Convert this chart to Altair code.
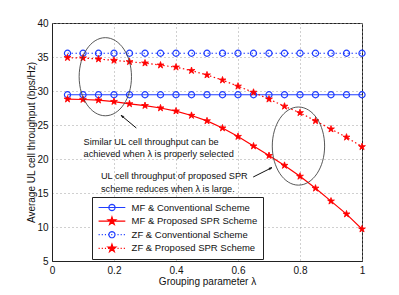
import math
import altair as alt
import pandas as pd

# ---------------- data ----------------
lam = [0.05, 0.10, 0.15, 0.20, 0.25, 0.30, 0.35, 0.40, 0.45, 0.50,
       0.55, 0.60, 0.65, 0.70, 0.75, 0.80, 0.85, 0.90, 0.95, 1.00]
mf_conv = [29.45, 29.45, 29.45, 29.45, 29.45, 29.45, 29.45, 29.45, 29.45, 29.45,
           29.45, 29.45, 29.45, 29.45, 29.45, 29.45, 29.45, 29.45, 29.45, 29.45]
mf_prop = [28.8, 28.75, 28.65, 28.45, 28.1, 27.85, 27.5, 27.05, 26.4, 25.6,
           24.55, 23.3, 21.9, 20.5, 19.05, 17.45, 15.7, 13.8, 11.9, 9.7]
zf_conv = [35.55, 35.55, 35.55, 35.55, 35.55, 35.55, 35.55, 35.55, 35.55, 35.55,
           35.55, 35.55, 35.55, 35.55, 35.55, 35.55, 35.55, 35.55, 35.55, 35.55]
zf_prop = [34.9, 34.85, 34.7, 34.5, 34.3, 34.1, 33.8, 33.5, 33.0, 32.35,
           31.6, 30.7, 29.8, 28.8, 27.75, 26.8, 25.6, 24.4, 23.2, 21.8]

series_names = ["MF & Conventional Scheme", "MF & Proposed SPR Scheme",
                "ZF & Conventional Scheme", "ZF & Proposed SPR Scheme"]
series_values = [mf_conv, mf_prop, zf_conv, zf_prop]
series_marker = ["circle", "star", "circle", "star"]
series_style = ["solid", "solid", "dotted", "dotted"]

x_ticks = [0, 0.2, 0.4, 0.6, 0.8, 1]
y_ticks = [5, 10, 15, 20, 25, 30, 35, 40]

ann_text = [["Similar UL cell throughput can be", "achieved when \u03bb is properly selected"],
            ["UL cell throughput of proposed SPR", "scheme reduces when \u03bb is large."]]
ann_text_x = [0.102, 0.158]
ann_text_y = [22.55, 17.5]

ellipse_x = [0.172, 0.795]
ellipse_y = [32.1, 21.9]

arrow_tail_x = [0.272, 0.649]
arrow_tail_y = [24.56, 17.35]
arrow_head_x = [0.2226, 0.7097]
arrow_head_y = [26.43, 18.74]
arrow_angle = [309.7, 63.3]

# ---------------- styles ----------------
BLUE = "#1f3dff"
RED = "#ff0000"
FONT = "Liberation Sans"
series_color = [BLUE, RED, BLUE, RED]


def star_path(R, cx=0.0, cy=0.0, ratio=0.382):
    pts = []
    for k in range(10):
        a = math.radians(-90 + 36 * k)
        r = R if k % 2 == 0 else R * ratio
        pts.append((cx + r * math.cos(a), cy + r * math.sin(a)))
    return "M" + "L".join(f"{px:.3f},{py:.3f}" for px, py in pts) + "Z"


def ring_path(r, cx=0.0, cy=0.0, n=20):
    pts = [(cx + r * math.cos(2 * math.pi * k / n), cy + r * math.sin(2 * math.pi * k / n))
           for k in range(n)]
    return "M" + "L".join(f"{px:.3f},{py:.3f}" for px, py in pts) + "Z"


L0, L1, MX = -0.87, 5.07, 2.1


def solid_line():
    return f"M{L0},0L{L1},0"


def dotted_line():
    segs = []
    p = L0
    while p < L1:
        segs.append(f"M{p:.3f},0L{min(p + 0.25, L1):.3f},0")
        p += 0.7
    return "".join(segs)


legend_shapes = [
    solid_line() + ring_path(0.68, MX),
    solid_line() + star_path(0.9, MX),
    dotted_line() + ring_path(0.68, MX),
    dotted_line() + star_path(0.9, MX),
]
legend_fill = ["transparent", RED, "transparent", RED]

STAR = star_path(1.0)
ELLIPSE = "M-0.67,0A0.67,1 0 1,0 0.67,0A0.67,1 0 1,0 -0.67,0Z"
ARROWHEAD = "M0,0L-0.6,2L0.6,2Z"

# ---------------- tables ----------------
rows = []
for name, vals, mk, st, col in zip(series_names, series_values, series_marker,
                                   series_style, series_color):
    for xv, yv in zip(lam, vals):
        rows.append({"series": name, "lam": xv, "thr": yv, "marker": mk,
                     "style": st, "col": col})
df = pd.DataFrame(rows)

ann_df = pd.DataFrame({"lam": ann_text_x, "thr": ann_text_y, "text": ann_text})
ell_df = pd.DataFrame({"lam": ellipse_x, "thr": ellipse_y})
arr_df = pd.DataFrame({"lam": arrow_tail_x, "thr": arrow_tail_y,
                       "lam2": arrow_head_x, "thr2": arrow_head_y, "angle": arrow_angle})
leg_df = pd.DataFrame({"series": series_names})

xscale = alt.Scale(domain=[0, 1], nice=False)
yscale = alt.Scale(domain=[5, 40], nice=False)

xaxis = alt.Axis(values=x_ticks, title="Grouping parameter \u03bb", format="~g",
                 grid=True, gridDash=[1, 3], gridColor="#a0a0a0", ticks=False,
                 labelPadding=4, titlePadding=1, labelOverlap=False, labelFlush=False)
yaxis = alt.Axis(values=y_ticks, title="Average UL cell throughput (bps/Hz)",
                 grid=True, gridDash=[1, 3], gridColor="#a0a0a0", ticks=False,
                 labelPadding=4, titlePadding=0, labelOverlap=False, labelFlush=False)

X = alt.X("lam:Q", scale=xscale, axis=xaxis)
Y = alt.Y("thr:Q", scale=yscale, axis=yaxis)

base = alt.Chart(df)

solid_lines = base.transform_filter(alt.datum.style == "solid").mark_line(
    strokeWidth=1.2, clip=True
).encode(x=X, y=Y, color=alt.Color("col:N", scale=None), detail="series:N")

dotted_lines = base.transform_filter(alt.datum.style == "dotted").mark_line(
    strokeWidth=1.2, clip=True, strokeDash=[1.5, 2.5]
).encode(x=X, y=Y, color=alt.Color("col:N", scale=None), detail="series:N")

circles = base.transform_filter(alt.datum.marker == "circle").mark_point(
    shape="circle", size=38, filled=False, stroke=BLUE, strokeWidth=1.2, opacity=1
).encode(x=X, y=Y)

stars = base.transform_filter(alt.datum.marker == "star").mark_point(
    shape=STAR, size=52, filled=True, fill=RED, stroke=RED, strokeWidth=0.8, opacity=1
).encode(x=X, y=Y)

texts = alt.Chart(ann_df).mark_text(
    align="left", baseline="middle", font=FONT, fontSize=9.2, lineHeight=12.5, color="#111"
).encode(x=X, y=Y, text="text")

ellipses = alt.Chart(ell_df).mark_point(
    shape=ELLIPSE, size=6100, filled=False, stroke="#444", strokeWidth=0.9, opacity=1
).encode(x=X, y=Y)

arrow_lines = alt.Chart(arr_df).mark_rule(color="#111", strokeWidth=1).encode(
    x=X, y=Y, x2="lam2:Q", y2="thr2:Q")

arrow_heads = alt.Chart(arr_df).mark_point(
    shape=ARROWHEAD, size=9, filled=True, fill="#111", stroke="#111", strokeWidth=0.5, opacity=1
).encode(x=alt.X("lam2:Q", scale=xscale, axis=xaxis),
         y=alt.Y("thr2:Q", scale=yscale, axis=yaxis),
         angle=alt.Angle("angle:Q", scale=None))

legend = alt.Legend(
    title=None, orient="none", legendX=40, legendY=174,
    strokeColor="#222", fillColor="white", padding=5, cornerRadius=0,
    labelFont=FONT, labelFontSize=9.5, labelColor="#111", labelLimit=300,
    symbolSize=81, symbolStrokeWidth=1.2, labelOffset=23.6, rowPadding=1.6,
    symbolOpacity=1,
)

# legend-only helper layer: its own marks sit outside the clipped view
legend_layer = alt.Chart(leg_df).mark_point(size=81, clip=True).encode(
    x=alt.value(-60), y=alt.value(-60),
    shape=alt.Shape("series:N", scale=alt.Scale(domain=series_names, range=legend_shapes),
                    legend=legend),
    stroke=alt.Stroke("series:N", scale=alt.Scale(domain=series_names, range=series_color),
                      legend=legend),
    fill=alt.Fill("series:N", scale=alt.Scale(domain=series_names, range=legend_fill),
                  legend=legend),
)

chart = alt.layer(
    solid_lines, dotted_lines, circles, stars, ellipses, arrow_lines, arrow_heads, texts,
    legend_layer
).properties(
    width=310, height=238,
    autosize=alt.AutoSizeParams(type="none"),
    padding={"left": 44, "top": 15, "right": 29, "bottom": 34},
).configure_view(
    stroke="#222", strokeWidth=1
).configure_axis(
    labelFont=FONT, labelFontSize=10, labelColor="#111",
    titleFont=FONT, titleFontSize=10, titleColor="#111", titleFontWeight="normal",
    domainColor="#222",
)

chart.save("out.html", embed_options={"renderer": "svg", "actions": False})
